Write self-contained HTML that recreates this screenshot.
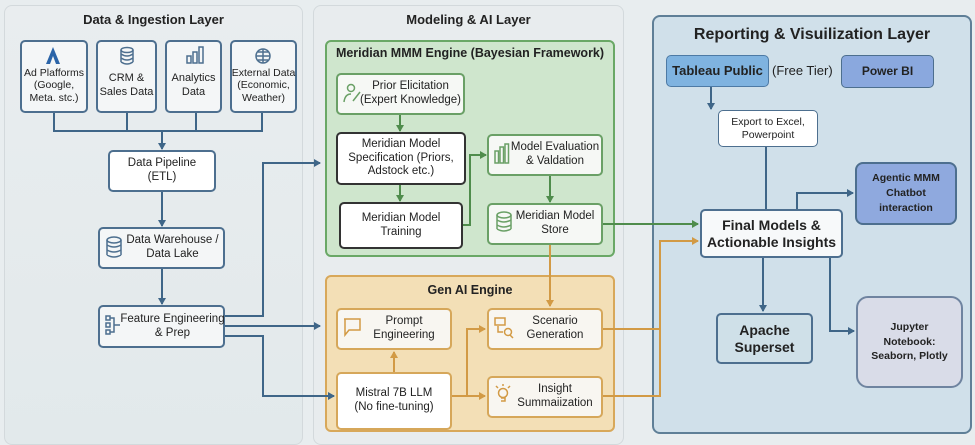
<!DOCTYPE html>
<html><head><meta charset="utf-8"><style>
body{margin:0;width:975px;height:436px;overflow:hidden;background:#e8edef;font-family:"Liberation Sans",sans-serif;}
.a{position:absolute;box-sizing:border-box;display:flex;align-items:center;justify-content:center;text-align:center;color:#222;line-height:1.2;white-space:nowrap;}
.b{border:2px solid #4d6f8f;border-radius:5px;background:#f4f6f7;font-size:11.5px;}
.g{border:2px solid #6aa066;border-radius:5px;background:#f6f8f5;font-size:11.5px;}
.o{border:2px solid #d6a75a;border-radius:5px;background:#f8f6f1;font-size:11.5px;}
.t{position:absolute;font-weight:bold;color:#222;text-align:center;white-space:nowrap;}
svg{position:absolute;left:0;top:0;}
</style></head><body>
<div class="a" style="left:4px;top:5px;width:299px;height:440px;border:1.5px solid #d3d9dc;border-radius:8px;background:linear-gradient(#e9edef,#e2e9eb)"></div>
<div class="a" style="left:313px;top:5px;width:311px;height:440px;border:1.5px solid #d3d9dc;border-radius:8px;background:#e8ecee"></div>
<div class="a" style="left:325px;top:40px;width:290px;height:217px;border:2px solid #6aa866;border-radius:6px;background:#cfe6cd"></div>
<div class="a" style="left:325px;top:275px;width:290px;height:157px;border:2px solid #d8a85a;border-radius:6px;background:#f3dfb6"></div>
<div class="a" style="left:652px;top:15px;width:320px;height:419px;border:2px solid #5f7f97;border-radius:8px;background:#d0e0ea"></div>

<div class="t" style="left:4px;width:299px;top:12px;font-size:13px">Data &amp; Ingestion Layer</div>
<div class="t" style="left:313px;width:311px;top:12px;font-size:13px">Modeling &amp; AI Layer</div>
<div class="t" style="left:325px;width:290px;top:46px;font-size:12.5px">Meridian MMM Engine (Bayesian Framework)</div>
<div class="t" style="left:325px;width:290px;top:283px;font-size:12.5px">Gen AI Engine</div>
<div class="t" style="left:652px;width:320px;top:26px;font-size:16px">Reporting &amp; Visuilization Layer</div>

<div class="a b" style="left:20px;top:40px;width:68px;height:73px;font-size:10.5px;padding-top:18px">Ad Plafforms<br>(Google,<br>Meta. stc.)</div>
<div class="a b" style="left:96px;top:40px;width:61px;height:73px;font-size:11px;padding-top:18px">CRM &amp;<br>Sales Data</div>
<div class="a b" style="left:165px;top:40px;width:57px;height:73px;font-size:11px;padding-top:18px">Analytics<br>Data</div>
<div class="a b" style="left:230px;top:40px;width:67px;height:73px;font-size:10.5px;padding-top:18px">External Data<br>(Economic,<br>Weather)</div>
<div class="a b" style="left:108px;top:150px;width:108px;height:42px;background:#fff">Data Pipeline<br>(ETL)</div>
<div class="a b" style="left:98px;top:227px;width:127px;height:42px;padding-left:22px">Data Warehouse /<br>Data Lake</div>
<div class="a b" style="left:98px;top:305px;width:127px;height:43px;padding-left:22px">Feature Engineering<br>&amp; Prep</div>

<div class="a g" style="left:336px;top:73px;width:129px;height:42px;padding-left:20px">Prior Elicitation<br>(Expert Knowledge)</div>
<div class="a g" style="left:336px;top:132px;width:130px;height:53px;background:#fff;border-color:#333;white-space:normal">Meridian Model Specification (Priors, Adstock etc.)</div>
<div class="a g" style="left:339px;top:202px;width:124px;height:47px;background:#fff;border-color:#333">Meridian Model<br>Training</div>
<div class="a g" style="left:487px;top:134px;width:116px;height:42px;padding-left:20px">Model Evaluation<br>&amp; Valdation</div>
<div class="a g" style="left:487px;top:203px;width:116px;height:42px;padding-left:20px">Meridian Model<br>Store</div>

<div class="a o" style="left:336px;top:308px;width:116px;height:42px;padding-left:20px">Prompt<br>Engineering</div>
<div class="a o" style="left:487px;top:308px;width:116px;height:42px;padding-left:20px">Scenario<br>Generation</div>
<div class="a o" style="left:336px;top:372px;width:116px;height:58px;background:#fff">Mistral 7B LLM<br>(No fine-tuning)</div>
<div class="a o" style="left:487px;top:376px;width:116px;height:42px;padding-left:20px">Insight<br>Summaiization</div>

<div class="a" style="left:666px;top:55px;width:103px;height:32px;border:1.5px solid #4d7aa5;border-radius:5px;background:#7fb3e0;font-size:13px;font-weight:bold">Tableau Public</div>
<div class="t" style="left:772px;top:63px;font-size:13px;font-weight:normal">(Free Tier)</div>
<div class="a" style="left:841px;top:55px;width:93px;height:33px;border:1.5px solid #4d6f8f;border-radius:5px;background:#8aa8de;font-size:12px;font-weight:bold">Power BI</div>
<div class="a b" style="left:718px;top:110px;width:100px;height:37px;background:#fff;font-size:10.5px;border-width:1.5px">Export to Excel,<br>Powerpoint</div>
<div class="a b" style="left:700px;top:209px;width:143px;height:49px;background:#f7f9fa;font-size:14px;font-weight:bold">Final Models &amp;<br>Actionable Insights</div>
<div class="a b" style="left:855px;top:162px;width:102px;height:63px;background:#8fa9de;border-radius:8px;font-weight:bold;font-size:10.5px;line-height:1.4">Agentic MMM<br>Chatbot<br>interaction</div>
<div class="a b" style="left:716px;top:313px;width:97px;height:51px;background:#cfe0e8;font-size:14px;font-weight:bold">Apache<br>Superset</div>
<div class="a b" style="left:856px;top:296px;width:107px;height:92px;background:#d9dce8;border-radius:12px;border-color:#6f84a0;font-weight:bold;font-size:10.5px;line-height:1.4">Jupyter<br>Notebook:<br>Seaborn, Plotly</div>

<svg width="975" height="436">
<defs>
<marker id="mb" markerWidth="8" markerHeight="8" refX="6" refY="4" orient="auto" markerUnits="userSpaceOnUse"><path d="M0,0 L7,4 L0,8z" fill="#3f6688"/></marker>
<marker id="mg" markerWidth="8" markerHeight="8" refX="6" refY="4" orient="auto" markerUnits="userSpaceOnUse"><path d="M0,0 L7,4 L0,8z" fill="#4f8c4c"/></marker>
<marker id="mo" markerWidth="8" markerHeight="8" refX="6" refY="4" orient="auto" markerUnits="userSpaceOnUse"><path d="M0,0 L7,4 L0,8z" fill="#d29a45"/></marker>
</defs>
<g fill="none" stroke="#3f6688" stroke-width="2">
<path d="M54,113 V131 H262 V113 M127,113 V131 M196,113 V131"/>
<path d="M162,131 V149" marker-end="url(#mb)"/>
<path d="M162,192 V226" marker-end="url(#mb)"/>
<path d="M162,269 V304" marker-end="url(#mb)"/>
<path d="M225,316 H263 V163 H320" marker-end="url(#mb)"/>
<path d="M225,326 H320" marker-end="url(#mb)"/>
<path d="M225,336 H263 V396 H334" marker-end="url(#mb)"/>
<path d="M711,87 V109" marker-end="url(#mb)"/>
<path d="M766,147 V209"/>
<path d="M797,209 V193 H853" marker-end="url(#mb)"/>
<path d="M763,258 V311" marker-end="url(#mb)"/>
<path d="M830,258 V331 H854" marker-end="url(#mb)"/>
</g>
<g fill="none" stroke="#4f8c4c" stroke-width="2">
<path d="M400,115 V131" marker-end="url(#mg)"/>
<path d="M400,185 V201" marker-end="url(#mg)"/>
<path d="M463,225 H470 V155 H486" marker-end="url(#mg)"/>
<path d="M550,176 V202" marker-end="url(#mg)"/>
<path d="M603,224 H698" marker-end="url(#mg)"/>
</g>
<g fill="none" stroke="#d29a45" stroke-width="2">
<path d="M550,245 V306" marker-end="url(#mo)"/>
<path d="M394,372 V352" marker-end="url(#mo)"/>
<path d="M452,396 H485" marker-end="url(#mo)"/>
<path d="M460,396 H467 V329 H485" marker-end="url(#mo)"/>
<path d="M603,329 H660 V241 H698" marker-end="url(#mo)"/>
<path d="M603,396 H660 V329"/>
</g>
<!-- icons -->
<path d="M46,64 L53,47 L60,64 L56,64 L53,56 L50,64Z" fill="#2b64a8"/>
<g fill="none" stroke="#4d6f8f" stroke-width="1.5">
<ellipse cx="127" cy="50" rx="6" ry="2.5"/><path d="M121,50 V62 M133,50 V62 M121,54 Q127,58 133,54 M121,58 Q127,62 133,58 M121,62 Q127,66 133,62"/>
<rect x="187" y="56" width="4" height="7"/><rect x="193" y="52" width="4" height="11"/><rect x="199" y="47" width="4" height="16"/>
<circle cx="263" cy="56" r="7"/><path d="M256,56 H270 M263,49 V63 M258,52 H268 M258,60 H268"/>
<ellipse cx="114" cy="240" rx="7" ry="3"/><path d="M107,240 V255 M121,240 V255 M107,245 Q114,249 121,245 M107,250 Q114,254 121,250 M107,255 Q114,259 121,255"/>
<rect x="106" y="316" width="4" height="4"/><rect x="106" y="323" width="4" height="4"/><rect x="106" y="330" width="4" height="4"/><path d="M110,318 H114 V332 H110 M114,325 H120"/>
</g>
<g fill="none" stroke="#6aa066" stroke-width="1.5">
<circle cx="351" cy="88" r="3.5"/><path d="M344,102 Q345,94 351,94 M353,101 L360,92"/>
<rect x="495" y="151" width="3.5" height="12"/><rect x="500" y="147" width="3.5" height="16"/><rect x="505" y="144" width="3.5" height="19"/>
<ellipse cx="504" cy="215" rx="7" ry="3"/><path d="M497,215 V229 M511,215 V229 M497,220 Q504,224 511,220 M497,225 Q504,229 511,225 M497,229 Q504,233 511,229"/>
</g>
<g fill="none" stroke="#d29a45" stroke-width="1.5">
<path d="M344,319 H360 V330 H349 L345,335 V319Z"/>
<rect x="495" y="318" width="10" height="7"/><circle cx="508" cy="332" r="3.5"/><path d="M510,335 L513,338 M498,326 V332 H503"/>
<circle cx="503" cy="393" r="4.5"/><path d="M501,398 H505 V401 H501 M496,386 L498,388 M510,386 L508,388 M503,384 V386"/>
</g>
</svg>
</body></html>
